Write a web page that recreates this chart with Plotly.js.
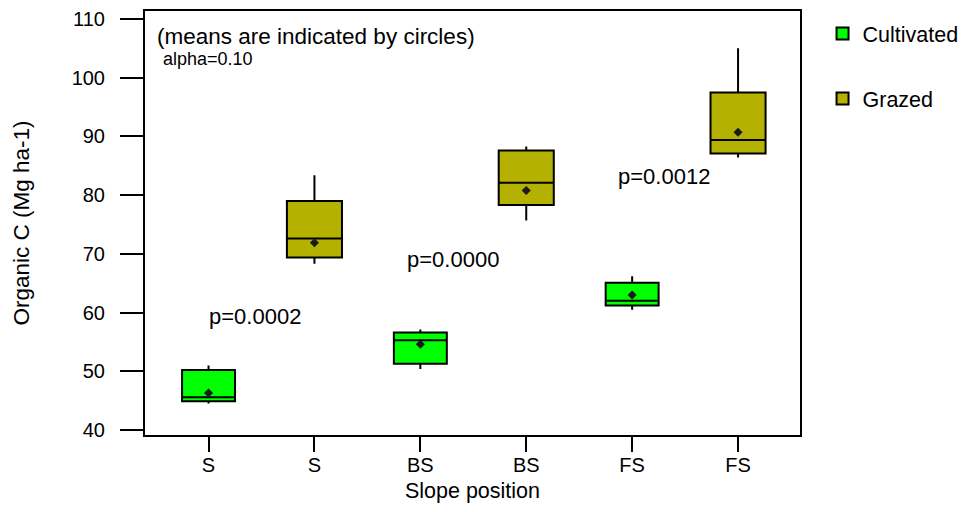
<!DOCTYPE html>
<html>
<head>
<meta charset="utf-8">
<script src="https://cdn.plot.ly/plotly-3.0.1.min.js"></script>
<style>html,body{margin:0;padding:0;background:#fff;}#chart{width:967px;height:512px;}</style>
</head>
<body>
<div id="chart"></div>
<script>
// Category positions and tick labels
const tickPositions = [0, 1, 2, 3, 4, 5];
const tickLabels = ["S", "S", "BS", "BS", "FS", "FS"];

// Cultivated (positions 0, 2, 4)
const cultX = [0, 2, 4];
const cultLower = [44.5, 50.4, 60.5];
const cultQ1 = [44.9, 51.3, 61.2];
const cultMedian = [45.6, 55.3, 62.0];
const cultQ3 = [50.2, 56.6, 65.1];
const cultUpper = [51.0, 57.1, 66.2];
const cultMean = [46.3, 54.6, 63.0];

// Grazed (positions 1, 3, 5)
const grazX = [1, 3, 5];
const grazLower = [68.3, 75.7, 86.4];
const grazQ1 = [69.4, 78.3, 87.1];
const grazMedian = [72.6, 82.1, 89.4];
const grazQ3 = [79.0, 87.6, 97.5];
const grazUpper = [83.4, 88.3, 105.0];
const grazMean = [71.9, 80.8, 90.7];

// p-value labels
const pLabels = ["p=0.0002", "p=0.0000", "p=0.0012"];
const pX = [0.44, 2.31, 4.30];
const pY = [59.3, 69.1, 83.1];

const FONT = "Arial, 'Liberation Sans', sans-serif";

const traces = [
  {
    type: "box", name: "Cultivated", legendgroup: "c",
    x: cultX, q1: cultQ1, median: cultMedian, q3: cultQ3,
    lowerfence: cultLower, upperfence: cultUpper,
    width: 0.5, whiskerwidth: 0,
    fillcolor: "#00FF00", line: {color: "#000000", width: 2},
    boxpoints: false, hoverinfo: "skip"
  },
  {
    type: "box", name: "Grazed", legendgroup: "g",
    x: grazX, q1: grazQ1, median: grazMedian, q3: grazQ3,
    lowerfence: grazLower, upperfence: grazUpper,
    width: 0.52, whiskerwidth: 0,
    fillcolor: "#B4B100", line: {color: "#000000", width: 2},
    boxpoints: false, hoverinfo: "skip"
  },
  {
    type: "scatter", mode: "markers", showlegend: false,
    x: cultX, y: cultMean,
    marker: {symbol: "diamond", size: 7, color: "#1a1a1a"}
  },
  {
    type: "scatter", mode: "markers", showlegend: false,
    x: grazX, y: grazMean,
    marker: {symbol: "diamond", size: 7, color: "#1a1a1a"}
  }
];

const annotations = pLabels.map((t, i) => ({
  x: pX[i], y: pY[i], xref: "x", yref: "y", text: t, showarrow: false,
  font: {family: FONT, size: 22, color: "#000"}
}));
annotations.push({
  x: 0.016, y: 0.939, xref: "paper", yref: "paper", xanchor: "left", yanchor: "middle",
  text: "(means are indicated by circles)", showarrow: false,
  font: {family: FONT, size: 22.5, color: "#000"}
});
annotations.push({
  x: 0.024, y: 0.887, xref: "paper", yref: "paper", xanchor: "left", yanchor: "middle",
  text: "alpha=0.10", showarrow: false,
  font: {family: FONT, size: 18, color: "#000"}
});

const layout = {
  width: 967, height: 512,
  margin: {l: 145, r: 167, t: 11, b: 77, autoexpand: false},
  paper_bgcolor: "#fff", plot_bgcolor: "#fff",
  font: {family: FONT, size: 20, color: "#000"},
  boxmode: "overlay",
  showlegend: true,
  legend: {
    x: 1.0344, y: 0.995, xanchor: "left", yanchor: "top",
    font: {family: FONT, size: 21.5, color: "#000"},
    tracegroupgap: 34, bgcolor: "rgba(0,0,0,0)"
  },
  xaxis: {
    range: [-0.6, 5.585],
    tickmode: "array", tickvals: tickPositions, ticktext: tickLabels,
    ticks: "outside", ticklen: 15, tickwidth: 2, tickcolor: "#000",
    showline: true, linecolor: "#000", linewidth: 2, mirror: true,
    showgrid: false, zeroline: false,
    ticklabelstandoff: -4,
    tickfont: {family: FONT, size: 20, color: "#000"},
    title: {text: "Slope position", font: {family: FONT, size: 21.5, color: "#000"}, standoff: 8}
  },
  yaxis: {
    range: [39.15, 111.36],
    tickmode: "array", tickvals: [40, 50, 60, 70, 80, 90, 100, 110],
    ticks: "outside", ticklen: 23, tickwidth: 2, tickcolor: "#000",
    showline: true, linecolor: "#000", linewidth: 2, mirror: true,
    showgrid: false, zeroline: false,
    ticklabelstandoff: 11,
    tickfont: {family: FONT, size: 20, color: "#000"},
    title: {text: "Organic C (Mg ha-1)", font: {family: FONT, size: 22.5, color: "#000"}, standoff: 36}
  },
  annotations: annotations
};

Plotly.newPlot("chart", traces, layout, {displayModeBar: false, staticPlot: true});
</script>
</body>
</html>
